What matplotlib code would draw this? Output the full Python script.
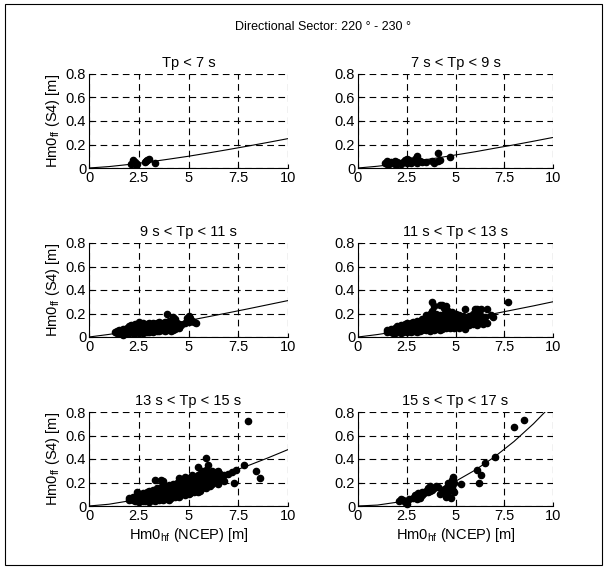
import numpy as np
import matplotlib
matplotlib.use("Agg")
import matplotlib.pyplot as plt
from matplotlib.patches import Rectangle

plt.rcParams['font.family'] = ['Liberation Sans', 'DejaVu Sans']

suptitle = "Directional Sector: 220 \u00b0 - 230 \u00b0"
titles = ["Tp < 7 s", "7 s < Tp < 9 s", "9 s < Tp < 11 s",
          "11 s < Tp < 13 s", "13 s < Tp < 15 s", "15 s < Tp < 17 s"]
xticks = [0, 2.5, 5, 7.5, 10]
xticklabels = ["0", "2.5", "5", "7.5", "10"]
yticks = [0, 0.2, 0.4, 0.6, 0.8]
yticklabels = ["0", "0.2", "0.4", "0.6", "0.8"]

# fitted curves at x = 0, 1, ..., 10
curve_x = [0, 1, 2, 3, 4, 5, 6, 7, 8, 9, 10]
curve_tp1 = [0, 0.012, 0.030, 0.051, 0.075, 0.100, 0.128, 0.157, 0.187, 0.218, 0.25]
curve_tp2 = [0, 0.015, 0.035, 0.059, 0.084, 0.111, 0.138, 0.168, 0.197, 0.228, 0.26]
curve_tp3 = [0, 0.022, 0.049, 0.078, 0.108, 0.140, 0.173, 0.206, 0.240, 0.275, 0.31]
curve_tp4 = [0, 0.021, 0.047, 0.075, 0.104, 0.135, 0.166, 0.199, 0.232, 0.265, 0.30]
curve_tp5 = [0, 0.015, 0.043, 0.079, 0.122, 0.170, 0.223, 0.282, 0.344, 0.410, 0.48]
curve_tp6 = [0, 0.008, 0.032, 0.074, 0.133, 0.210, 0.305, 0.418, 0.549, 0.700, 0.87]

# scatter points: {Hm0_hf: [Hm0_ff, ...]}
pts_tp1 = {2.1: [.03], 2.2: [.04, .07], 2.3: [.05, .03], 2.4: [.03],
           2.8: [.05], 2.85: [.06], 2.9: [.07], 3.0: [.08], 3.3: [.04]}
pts_tp2 = {1.4: [.04], 1.5: [.06, .03], 1.6: [.03], 1.7: [.05], 1.8: [.04],
           1.9: [.03, .06], 2.0: [.05, .03], 2.1: [.04], 2.2: [.03], 2.3: [.05],
           2.4: [.07], 2.5: [.08, .04], 2.6: [.05, .07], 2.7: [.04], 2.8: [.06],
           2.9: [.08], 3.0: [.10, .04], 3.1: [.07], 3.2: [.06], 3.3: [.05],
           3.5: [.05], 3.8: [.06], 3.9: [.04], 4.1: [.13, .06], 4.2: [.07], 4.7: [.09]}
pts_tp3 = {1.3: [.04], 1.4: [.05, .03], 1.5: [.06, .04, .03], 1.6: [.05, .03],
           1.7: [.07, .04, .02], 1.8: [.06, .04, .03], 1.9: [.08, .05, .03],
           2.0: [.09, .06, .04, .03], 2.1: [.10, .07, .04], 2.2: [.08, .05, .03],
           2.3: [.11, .07, .04, .03], 2.4: [.09, .06, .04], 2.5: [.13, .10, .07, .05, .03],
           2.6: [.09, .06, .04], 2.7: [.12, .08, .05, .03], 2.8: [.10, .07, .04],
           2.9: [.11, .08, .06, .04], 3.0: [.12, .09, .06, .04], 3.1: [.10, .07, .05],
           3.2: [.12, .08, .06, .04], 3.3: [.11, .09, .06], 3.4: [.12, .08, .05],
           3.5: [.13, .10, .07, .05], 3.6: [.11, .08, .06], 3.7: [.12, .09, .06],
           3.8: [.13, .10, .07, .05], 3.9: [.20, .12, .08, .06], 4.0: [.14, .11, .08],
           4.1: [.13, .10, .07, .05], 4.2: [.17, .12, .09, .06], 4.3: [.15, .10, .07],
           4.4: [.12, .09], 4.5: [.11, .08], 4.6: [.10], 4.8: [.12], 4.9: [.16],
           5.0: [.18, .15, .13], 5.1: [.16, .14], 5.2: [.14], 5.3: [.13], 5.4: [.12]}
pts_tp4 = {1.5: [.06, .04], 1.6: [.05], 1.7: [.07, .04], 1.8: [.06, .03],
           1.9: [.08, .05, .03], 2.0: [.09, .06, .04], 2.1: [.07, .04],
           2.2: [.10, .07, .05, .03], 2.3: [.09, .06, .04], 2.4: [.11, .08, .05],
           2.5: [.12, .09, .06, .04], 2.6: [.10, .07, .05], 2.7: [.12, .09, .06, .04],
           2.8: [.13, .10, .07, .05], 2.9: [.11, .08, .05], 3.0: [.14, .11, .08, .06, .04],
           3.1: [.12, .09, .06], 3.2: [.14, .11, .08, .05], 3.3: [.15, .12, .09, .06],
           3.4: [.13, .10, .07], 3.5: [.19, .15, .12, .09, .06], 3.6: [.16, .13, .10, .07],
           3.7: [.20, .14, .11, .08, .05], 3.8: [.30, .22, .17, .13, .10, .07],
           3.9: [.26, .15, .12, .09, .06], 4.0: [.20, .16, .13, .10, .07],
           4.1: [.18, .14, .11, .08], 4.2: [.27, .19, .15, .12, .09, .06],
           4.3: [.27, .17, .13, .10, .07], 4.4: [.25, .20, .15, .12, .09],
           4.5: [.26, .18, .14, .11, .08], 4.6: [.22, .16, .12, .09],
           4.7: [.19, .14, .11, .08], 4.8: [.21, .17, .13, .10], 4.9: [.18, .14, .11, .08],
           5.0: [.20, .16, .12, .09], 5.1: [.17, .13, .10], 5.2: [.19, .15, .11, .08],
           5.3: [.16, .12, .09], 5.4: [.18, .14, .10], 5.5: [.24, .17, .13, .07],
           5.6: [.15, .11], 5.7: [.18, .14, .10], 5.8: [.16, .12], 5.9: [.20, .15, .11],
           6.0: [.24, .17, .13], 6.1: [.24, .14, .10], 6.2: [.20, .16],
           6.3: [.24, .18, .13], 6.4: [.15, .11], 6.5: [.17], 6.6: [.24, .12],
           6.8: [.19], 6.9: [.17], 7.7: [.30]}
pts_tp5 = {2.0: [.07, .05], 2.1: [.06], 2.2: [.08, .05], 2.3: [.07, .04],
           2.4: [.12, .09, .06, .04], 2.5: [.10, .07, .05, .03], 2.6: [.08, .05],
           2.7: [.11, .08, .06, .04], 2.8: [.09, .06, .04], 2.9: [.12, .09, .07, .05],
           3.0: [.13, .10, .07, .05, .03], 3.1: [.11, .08, .06], 3.2: [.14, .11, .08, .05],
           3.3: [.22, .12, .09, .07, .04], 3.4: [.15, .11, .08, .06], 3.5: [.13, .10, .07, .05],
           3.6: [.22, .16, .12, .09, .06], 3.7: [.21, .14, .11, .08, .05],
           3.8: [.17, .13, .10, .07], 3.9: [.15, .12, .09, .06], 4.0: [.18, .14, .11, .08, .05],
           4.1: [.16, .13, .10, .07], 4.2: [.19, .15, .12, .09], 4.3: [.17, .14, .11, .08],
           4.4: [.20, .16, .12, .09], 4.5: [.24, .18, .14, .11, .08], 4.6: [.21, .17, .13, .10],
           4.7: [.23, .19, .15, .11], 4.8: [.25, .20, .16, .12, .09], 4.9: [.22, .18, .14, .11],
           5.0: [.24, .20, .16, .13, .10], 5.1: [.22, .18, .14, .11], 5.2: [.26, .21, .17, .13],
           5.3: [.25, .19, .15, .12], 5.4: [.23, .18, .14], 5.5: [.33, .26, .21, .16, .12],
           5.6: [.27, .22, .17, .13], 5.7: [.30, .24, .19, .15], 5.8: [.28, .22, .17],
           5.9: [.41, .31, .25, .20, .15], 6.0: [.35, .29, .23, .18], 6.1: [.27, .21, .17],
           6.2: [.30, .25, .19], 6.3: [.26, .21], 6.4: [.29, .23], 6.5: [.30, .25, .19],
           6.6: [.27, .22], 6.8: [.26, .21], 7.0: [.27], 7.2: [.29], 7.3: [.20], 7.4: [.31],
           7.8: [.35], 8.0: [.72], 8.4: [.30], 8.6: [.24]}
pts_tp6 = {2.1: [.04], 2.2: [.06], 2.3: [.05], 2.4: [.03], 2.5: [.02], 2.6: [.06],
           2.8: [.07], 2.9: [.09], 3.0: [.06], 3.1: [.08, .11], 3.2: [.10, .07],
           3.3: [.12, .09], 3.4: [.11], 3.5: [.13], 3.6: [.12, .15], 3.7: [.17, .13],
           3.8: [.14], 3.9: [.15], 4.0: [.17], 4.1: [.16], 4.2: [.10], 4.3: [.14],
           4.4: [.13], 4.5: [.08, .15], 4.6: [.20, .12], 4.7: [.18, .14], 4.75: [.07],
           4.8: [.22, .16], 4.85: [.25], 4.9: [.12, .20], 5.3: [.19], 6.1: [.31],
           6.2: [.20], 6.3: [.26], 6.5: [.37], 7.0: [.42], 8.0: [.67], 8.5: [.73]}

panels = [(pts_tp1, curve_tp1), (pts_tp2, curve_tp2), (pts_tp3, curve_tp3),
          (pts_tp4, curve_tp4), (pts_tp5, curve_tp5), (pts_tp6, curve_tp6)]

W, H = 607, 569
fig = plt.figure(figsize=(W / 100, H / 100), dpi=100)

# figure border
fig.patches.append(Rectangle((5 / W, 4 / H), 597 / W, 561 / H, transform=fig.transFigure,
                             fill=False, edgecolor='black', linewidth=0.8))
fig.text(323 / W, 1 - 27 / H, suptitle, ha='center', va='center', fontsize=9)

lefts = [89 / W, 358 / W]
widths = [199 / W, 195 / W]
bottoms = [1 - 168 / H, 1 - 337 / H, 1 - 506 / H]
height = 94 / H

for i, (pts, curve) in enumerate(panels):
    row, col = i // 2, i % 2
    ax = fig.add_axes([lefts[col], bottoms[row], widths[col], height])
    xs = [x for x, ys in pts.items() for _ in ys]
    ys = [y for ys_ in pts.values() for y in ys_]
    ax.plot(curve_x, curve, color='black', linewidth=0.8, zorder=3)
    ax.scatter(xs, ys, s=20, color='black', zorder=4, clip_on=False)
    ax.set_xlim(0, 10)
    ax.set_ylim(0, 0.8)
    ax.set_xticks(xticks)
    ax.set_xticklabels(xticklabels)
    ax.set_yticks(yticks)
    ax.set_yticklabels(yticklabels)
    ax.grid(True, color='black', linestyle=(0, (6, 4)), linewidth=0.8)
    ax.spines['top'].set_visible(False)
    ax.spines['right'].set_visible(False)
    for s in ['left', 'bottom']:
        ax.spines[s].set_linewidth(0.8)
    ax.tick_params(direction='in', length=3, labelsize=10.5, pad=2)
    ax.set_title(titles[i], fontsize=10.5, pad=5)
    if col == 0:
        ax.set_ylabel("Hm0$_{\\mathregular{ff}}$ (S4) [m]", fontsize=10.5, labelpad=3)
    if row == 2:
        ax.set_xlabel("Hm0$_{\\mathregular{hf}}$ (NCEP) [m]", fontsize=10.5, labelpad=2)

fig.savefig("out.png", dpi=100)
